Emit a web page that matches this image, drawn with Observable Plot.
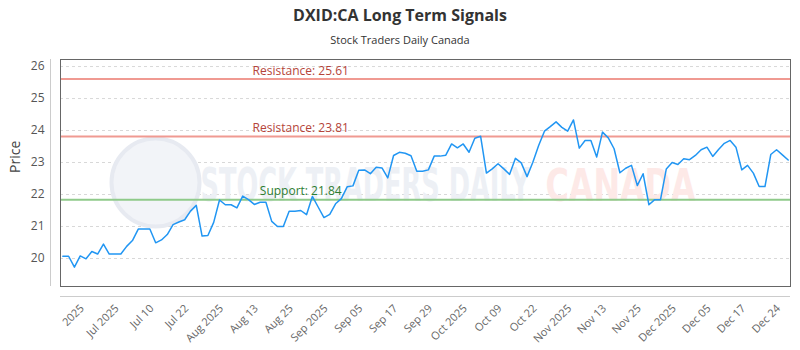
<!DOCTYPE html>
<html><head><meta charset="utf-8">
<script src="https://cdn.jsdelivr.net/npm/d3@7"></script>
<script src="https://cdn.jsdelivr.net/npm/@observablehq/plot@0.6"></script>
<style>
body{margin:0;background:#fff;font-family:"Open Sans",sans-serif;}
#title{height:30px;line-height:30px;text-align:center;font-size:16px;font-weight:bold;color:#333;}
#subtitle{height:20px;line-height:20px;text-align:center;font-size:11px;color:#333;}
#chart svg{display:block;}
</style></head><body>
<div id="title">DXID:CA Long Term Signals</div>
<div id="subtitle">Stock Traders Daily Canada</div>
<div id="chart"></div>
<script>
const prices = [
  20.07, 20.07, 19.73, 20.08, 19.99, 20.22, 20.14, 20.45, 20.14, 20.14,
  20.14, 20.38, 20.56, 20.92, 20.92, 20.92, 20.49, 20.58, 20.75, 21.06,
  21.14, 21.21, 21.48, 21.66, 20.70, 20.72, 21.13, 21.83, 21.68, 21.68,
  21.58, 21.95, 21.84, 21.69, 21.76, 21.76, 21.16, 21.00, 21.00, 21.48,
  21.48, 21.50, 21.37, 21.94, 21.61, 21.28, 21.38, 21.71, 21.87, 22.24,
  22.27, 22.76, 22.77, 22.65, 22.85, 22.83, 22.52, 23.22, 23.32, 23.29,
  23.21, 22.73, 22.73, 22.77, 23.20, 23.20, 23.23, 23.58, 23.46, 23.58,
  23.32, 23.76, 23.82, 22.67, 22.80, 22.96, 22.80, 22.63, 23.13, 22.99,
  22.56, 23.01, 23.53, 23.98, 24.12, 24.27, 24.10, 23.98, 24.33, 23.45,
  23.69, 23.69, 23.17, 23.95, 23.77, 23.43, 22.68, 22.82, 22.91, 22.28,
  22.65, 21.68, 21.84, 21.84, 22.80, 23.00, 22.94, 23.12, 23.09, 23.22,
  23.40, 23.48, 23.19, 23.41, 23.60, 23.69, 23.48, 22.77, 22.91, 22.67,
  22.25, 22.25, 23.25, 23.40, 23.24, 23.08
];
const tickLabels = ["2025","Jul 2025","Jul 10","Jul 22","Aug 2025","Aug 13","Aug 25","Sep 2025","Sep 05","Sep 17","Sep 29","Oct 2025","Oct 09","Oct 22","Nov 2025","Nov 13","Nov 25","Dec 2025","Dec 05","Dec 17","Dec 24"];
const tickIndex = [3,9,15,21,27,33,39,45,51,57,63,69,75,81,87,93,99,105,111,117,123];
const yTicks = [20,21,22,23,24,25,26];
const resistanceLevels = [25.61, 23.81];
const supportLevels = [21.84];
const labelAt = 41;

const data = prices.map((p, i) => ({i, p}));
const xMin = -0.4, xMax = 125.4, yMin = 19.125, yMax = 26.22;

const chart = Plot.plot({
  width: 800, height: 300,
  marginTop: 9, marginBottom: 64, marginLeft: 60, marginRight: 10,
  style: {fontFamily: "Open Sans, sans-serif", background: "#fff"},
  x: {domain: [xMin, xMax]},
  y: {domain: [yMin, yMax]},
  marks: [
    Plot.gridY(yTicks, {stroke: "#d8d8d8", strokeDasharray: "3,3", strokeOpacity: 1}),
    Plot.dot([0], {frameAnchor: "top-left", dx: 95, dy: 123, r: 44, fill: "#f2f4f8", stroke: "#e7eaf1", strokeWidth: 4}),
    Plot.text(["STOCK TRADERS DAILY"], {frameAnchor: "top-left", dx: 140, dy: 141, textAnchor: "start", lineAnchor: "bottom", fontSize: 46, fontWeight: "bold", fill: "#edf0f5", fontFamily: "DejaVu Sans Condensed, DejaVu Sans, sans-serif"}),
    Plot.text(["CANADA"], {frameAnchor: "top-left", dx: 485, dy: 141, textAnchor: "start", lineAnchor: "bottom", fontSize: 44, fontWeight: "bold", fill: "#fde9e7", fontFamily: "DejaVu Sans, sans-serif"}),
    Plot.ruleY(resistanceLevels, {stroke: "#f09a92", strokeWidth: 2}),
    Plot.ruleY(supportLevels, {stroke: "#8fca8a", strokeWidth: 2}),
    Plot.text(resistanceLevels, {x: () => labelAt, y: d => d, text: d => `Resistance: ${d.toFixed(2)}`, dy: -8, fill: "#b5443a", fontSize: 12}),
    Plot.text(supportLevels, {x: () => labelAt, y: d => d, text: d => `Support: ${d.toFixed(2)}`, dy: -8, fill: "#2e7d32", fontSize: 12}),
    Plot.line(data, {x: "i", y: "p", stroke: "#2196f3", strokeWidth: 1.5}),
    Plot.frame({stroke: "#666"}),
    Plot.ruleX([xMin], {dx: -10, stroke: "#ccc"}),
    Plot.ruleY([yMin], {dy: 10, stroke: "#ccc"}),
    Plot.axisY({ticks: yTicks, tickSize: 0, tickPadding: 16, fontSize: 12, color: "#555", label: null}),
    Plot.axisX({ticks: tickIndex, tickFormat: d => tickLabels[tickIndex.indexOf(d)], tickRotate: -45, tickSize: 0, tickPadding: 20, dx: 2, fontSize: 11, color: "#666", label: null}),
    Plot.text(["Price"], {frameAnchor: "left", dx: -45, rotate: -90, fontSize: 14, fill: "#444"})
  ]
});
document.getElementById("chart").appendChild(chart);
function squeeze(label, targetWidth) {
  d3.select(chart).selectAll("text").filter(function(){ return this.textContent === label; }).each(function(){
    const w = this.getBBox().width;
    if (!w) return;
    const sx = targetWidth / w;
    const x0 = +(this.getAttribute("x") || 0);
    const t = this.getAttribute("transform") || "";
    this.setAttribute("transform", `${t} translate(${x0},0) scale(${sx},1) translate(${-x0},0)`);
  });
}
squeeze("STOCK TRADERS DAILY", 330);
squeeze("CANADA", 150);
</script>
</body></html>
